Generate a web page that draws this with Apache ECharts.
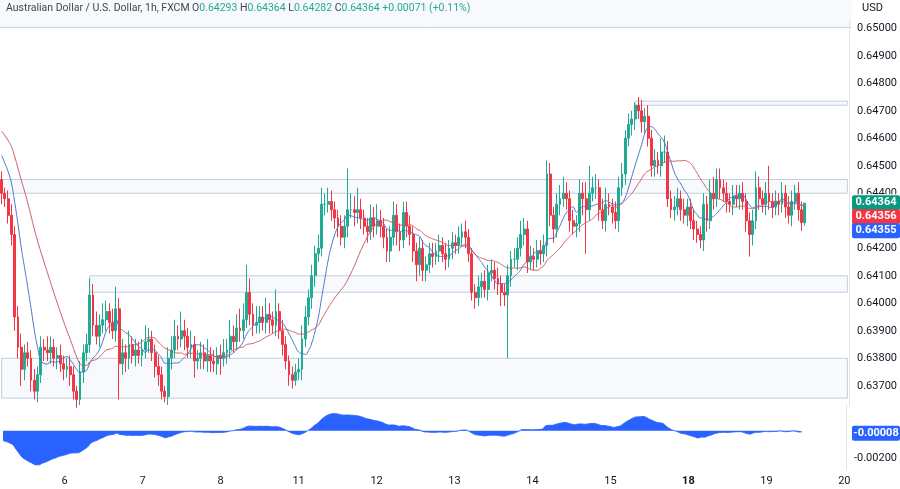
<!DOCTYPE html>
<html><head><meta charset="utf-8">
<script src="https://cdn.jsdelivr.net/npm/echarts@6/dist/echarts.min.js"></script>
<style>html,body{margin:0;padding:0;background:#fff}#c{width:900px;height:489px}</style>
</head><body><div id="c"></div>
<script>
const history = [0.6478,0.6476,0.6480,0.6474,0.6472,0.6475,0.6470,0.6468,0.6471,0.6474,0.6472,0.6469,0.6470,0.6473,0.6471,0.6468,0.6466,0.6470,0.6472,0.6468,0.6465,0.6467,0.6463,0.6460,0.6462,0.6458,0.6455,0.6452,0.6448,0.6445];
const closes = [
0.6440,0.6438,0.6432,0.6425,0.6395,0.6384,0.6376,0.6382,0.6380,0.6372,
0.6368,0.6374,0.6384,0.6383,0.6382,0.6384,0.6380,0.6381,0.6378,0.6376,
0.6377,0.6374,0.6368,0.6365,0.6375,0.6382,0.6385,0.6403,0.6392,0.6388,
0.6392,0.6394,0.6397,0.6393,0.6390,0.6398,0.6378,0.6382,0.6380,0.6385,
0.6381,0.6383,0.6381,0.6383,0.6386,0.6387,0.6382,0.6377,0.6374,0.6368,
0.6366,0.6380,0.6383,0.6388,0.6387,0.6390,0.6388,0.6384,0.6385,0.6379,
0.6380,0.6382,0.6379,0.6381,0.6379,0.6378,0.6381,0.6380,0.6382,0.6383,
0.6388,0.6386,0.6391,0.6390,0.6394,0.6404,0.6396,0.6392,0.6393,0.6395,
0.6393,0.6396,0.6394,0.6392,0.6397,0.6390,0.6385,0.6379,0.6374,0.6372,
0.6375,0.6376,0.6387,0.6395,0.6402,0.6410,0.6418,0.6420,0.6436,0.6436,
0.6437,0.6434,0.6431,0.6428,0.6424,0.6428,0.6434,0.6434,0.6433,0.6434,
0.6431,0.6428,0.6426,0.6431,0.6428,0.6430,0.6428,0.6424,0.6419,0.6424,
0.6432,0.6426,0.6423,0.6433,0.6428,0.6425,0.6419,0.6414,0.6420,0.6412,
0.6414,0.6418,0.6417,0.6419,0.6421,0.6418,0.6416,0.6420,0.6422,0.6421,
0.6424,0.6426,0.6424,0.6418,0.6404,0.6402,0.6406,0.6408,0.6405,0.6411,
0.6412,0.6409,0.6407,0.6404,0.6403,0.6410,0.6416,0.6416,0.6420,0.6425,
0.6427,0.6415,0.6417,0.6416,0.6419,0.6418,0.6421,0.6447,0.6432,0.6427,
0.6436,0.6438,0.6440,0.6438,0.6430,0.6428,0.6429,0.6440,0.6438,0.6434,
0.6440,0.6442,0.6442,0.6434,0.6430,0.6436,0.6435,0.6433,0.6430,0.6442,
0.6447,0.6460,0.6465,0.6467,0.6472,0.6470,0.6466,0.6468,0.6460,0.6450,
0.6452,0.6450,0.6455,0.6455,0.6438,0.6434,0.6435,0.6438,0.6434,0.6432,
0.6435,0.6430,0.6427,0.6425,0.6423,0.6436,0.6430,0.6440,0.6438,0.6445,
0.6442,0.6440,0.6437,0.6436,0.6439,0.6438,0.6440,0.6437,0.6430,0.6425,
0.6430,0.6442,0.6438,0.6436,0.6440,0.6437,0.6435,0.6437,0.6436,0.6440,
0.6435,0.6432,0.6437,0.6440,0.6434,0.64293,0.64364];
const highWick = [
30,20,30,40,30,40,50,30,40,30, 40,30,40,30,50,40,30,30,40,30,
30,40,30,20,40,30,40,60,40,50, 40,60,40,30,50,80,40,50,30,50,
30,40,30,40,60,40,30,30,40,30, 20,40,50,60,40,70,40,30,50,30,
30,40,30,60,30,40,30,40,50,40, 60,40,50,70,60,100,50,40,60,40,
40,60,40,30,80,30,40,30,20,30, 30,40,50,40,30,40,30,50,60,40,
50,40,30,30,40,40,150,60,50,80, 40,30,30,50,40,60,40,30,30,40,
50,40,30,40,40,40,30,30,40,30, 30,40,40,30,40,30,40,30,40,30,
40,30,40,30,20,30,40,30,40,30, 40,30,40,30,30,40,30,40,40,50,
40,30,40,30,40,40,40,50,40,30, 40,50,60,40,30,40,30,50,40,60,
100,40,50,30,40,60,40,30,40,40, 40,30,40,30,10,30,40,30,40,30,
40,30,50,60,40,30,40,40,30,40, 30,30,40,30,30,40,30,50,60,40,
40,30,40,30,40,40,30,40,30,30, 40,60,40,30,40,100,30,40,30,40,
30,40,40,30,40,30,0];
const lowWick = [
40,30,30,40,50,40,60,40,30,40, 30,40,30,40,30,40,30,40,30,40,
30,40,30,30,20,40,30,30,40,30, 40,30,40,40,30,40,130,40,50,40,
30,40,30,40,30,40,30,40,40,30, 20,30,40,30,40,30,50,40,40,60,
30,40,30,40,40,30,40,60,30,40, 30,40,30,40,30,30,40,40,30,40,
30,40,50,30,40,30,40,30,40,30, 20,30,40,30,30,40,40,30,30,40,
30,40,40,40,30,40,40,30,50,40, 40,30,40,30,40,30,40,40,40,40,
30,50,40,30,40,40,40,60,40,40, 40,30,40,30,40,30,40,30,40,30,
30,30,40,30,30,40,30,40,30,40, 30,40,40,50,40,230,40,30,40,30,
40,40,30,40,30,40,30,40,40,50, 30,40,30,40,40,30,40,30,60,160,
40,30,40,40,30,40,30,40,30,40, 30,40,30,40,40,30,40,40,30,40,
40,30,40,40,30,30,40,30,40,30, 40,30,40,30,30,40,40,30,40,30,
40,30,40,30,40,30,40,30,40,80, 40,30,40,30,40,30,40,30,40,30,
40,30,40,30,40,30,11];
const dayLabels = ['6','7','8','11','12','13','14','15','18','19','20'];
const dayIndex = [19,43,67,91,115,139,163,187,211,235,259];
const zones = [ // [startIndex, low, high]
  [0, 0.6440, 0.6445], [27, 0.6404, 0.6410], [0, 0.63655, 0.6380], [194, 0.64720, 0.64735]];
const priceTicks = [0.637,0.638,0.639,0.640,0.641,0.642,0.643,0.644,0.645,0.646,0.647,0.648,0.649,0.650];

const N = 260;
const cats = []; for (let i=0;i<N;i++){ const k=dayIndex.indexOf(i); cats.push(k>=0?dayLabels[k]:''); }
const all = history.concat(closes), H = history.length;
const candles = closes.map((c,i)=>{ const o = i===0?history[H-1]:closes[i-1];
  return [o, c, +(Math.min(o,c)-lowWick[i]*1e-5).toFixed(5), +(Math.max(o,c)+highWick[i]*1e-5).toFixed(5)]; });
function sma(n){ return closes.map((_,i)=>{ let s=0; for(let k=0;k<n;k++) s+=all[H+i-k]; return +(s/n).toFixed(5); }); }
function ema(n){ const a=2/(n+1); let e=all[0]; const out=[]; all.forEach(v=>{e=a*v+(1-a)*e; out.push(e);}); return out.slice(H); }
const maFast = sma(9), maSlow = sma(21);
const e12 = ema(12), e26 = ema(26);
const osc = e12.map((v,i)=>+(v-e26[i]).toFixed(5));

const chart = echarts.init(document.getElementById('c'));
const ff = 'Roboto, "Noto Sans", sans-serif';
chart.setOption({
  animation:false,
  textStyle:{fontFamily:ff},
  grid:[{left:0,top:20,width:851.5,height:385},{left:0,top:405,width:851.5,height:65}],
  xAxis:[
    {type:'category',data:cats,gridIndex:0,boundaryGap:true,axisLine:{show:false},axisTick:{show:false},axisLabel:{show:false},splitLine:{show:false}},
    {type:'category',data:cats,gridIndex:1,boundaryGap:true,axisLine:{show:false},axisTick:{show:false},
     axisLabel:{interval:0,color:'#131722',fontSize:11,margin:6,formatter:v=>v==='18'?'{b|18}':v,rich:{b:{fontWeight:'bold',fontSize:11,color:'#131722'}}},splitLine:{show:false}}],
  yAxis:[
    {type:'value',gridIndex:0,position:'right',min:0.6363,max:0.6503,interval:0.0001,scale:true,
     axisLine:{show:true,lineStyle:{color:'#e0e3eb'}},axisTick:{show:false},splitLine:{show:false},
     axisLabel:{color:'#131722',fontSize:11,margin:8,formatter:v=>{const r=Math.round(v*10000);return r%10===0&&priceTicks.some(t=>Math.abs(t-v)<1e-6)?v.toFixed(5):'';}}},
    {type:'value',gridIndex:1,position:'right',min:-0.0029,max:0.0019,interval:0.0001,
     axisLine:{show:true,lineStyle:{color:'#e0e3eb'}},axisTick:{show:false},splitLine:{show:false},
     axisLabel:{color:'#131722',fontSize:11,margin:8,formatter:v=>Math.abs(v+0.002)<1e-7?'-0.00200':''}}],
  series:[
    {type:'candlestick',data:candles,xAxisIndex:0,yAxisIndex:0,barWidth:'72%',
     itemStyle:{color:'#22ab94',color0:'#f23645',borderColor:'#22ab94',borderColor0:'#f23645',borderWidth:1},
     markArea:{silent:true,itemStyle:{color:'rgba(240,244,251,0.55)',borderColor:'#c2cedd',borderWidth:1},
       data:zones.map(z=>[{xAxis:z[0],yAxis:z[1]},{xAxis:N-1,yAxis:z[2]}])}},
    {type:'line',data:maFast,xAxisIndex:0,yAxisIndex:0,symbol:'none',smooth:true,lineStyle:{width:1,color:'#4f74c4'}},
    {type:'line',data:maSlow,xAxisIndex:0,yAxisIndex:0,symbol:'none',smooth:true,lineStyle:{width:1,color:'#c95b63'}},
    {type:'line',data:osc,xAxisIndex:1,yAxisIndex:1,symbol:'none',smooth:true,lineStyle:{width:1,color:'#2962ff'},areaStyle:{color:'#2962ff',opacity:1,origin:0}}
  ]
});
const last = closes.length-1;
const yC = chart.convertToPixel({yAxisIndex:0}, closes[last]);
const yO = chart.convertToPixel({yAxisIndex:1}, osc[last]);
function tag(y,text,color){return {type:'group',x:852,y:y-8,z:100,children:[{type:'rect',z:100,shape:{x:0,y:0,width:48,height:15,r:2},style:{fill:color}},
  {type:'text',z:101,style:{x:24,y:7.5,text:text,fill:'#fff',font:'bold 11px '+ff,align:'center',verticalAlign:'middle'}}]};}
chart.setOption({graphic:[
  {type:'rect',shape:{x:0,y:0,width:851.5,height:27},style:{fill:'#f8f9fd'},z:-1},
  {type:'line',shape:{x1:0,y1:27.5,x2:851.5,y2:27.5},style:{stroke:'#c9d3e0',lineWidth:1}},
  {type:'text',x:6,y:8,style:{text:'Australian Dollar / U.S. Dollar, 1h, FXCM',fill:'#434651',font:'10.5px '+ff,verticalAlign:'middle'}},
  {type:'text',x:192,y:8,style:{text:'{g|O}{v|0.64293} {g|H}{v|0.64364} {g|L}{v|0.64282} {g|C}{v|0.64364} {v|+0.00071 (+0.11%)}',font:'10.5px '+ff,verticalAlign:'middle',
     rich:{g:{fill:'#434651',font:'10.5px '+ff},v:{fill:'#22ab94',font:'10.5px '+ff}}}},
  {type:'text',x:862,y:8,style:{text:'USD',fill:'#131722',font:'11px '+ff,verticalAlign:'middle'}},
  {type:'rect',z:99,shape:{x:852,y:yC-9,width:48,height:46},style:{fill:'#fff'}},
  tag(yC, closes[last].toFixed(5), '#089981'),
  tag(yC+14, maSlow[last].toFixed(5), '#f23645'),
  tag(yC+28, maFast[last].toFixed(5), '#2962ff'),
  tag(yO+2, osc[last].toFixed(5), '#2962ff')
]});
</script></body></html>
